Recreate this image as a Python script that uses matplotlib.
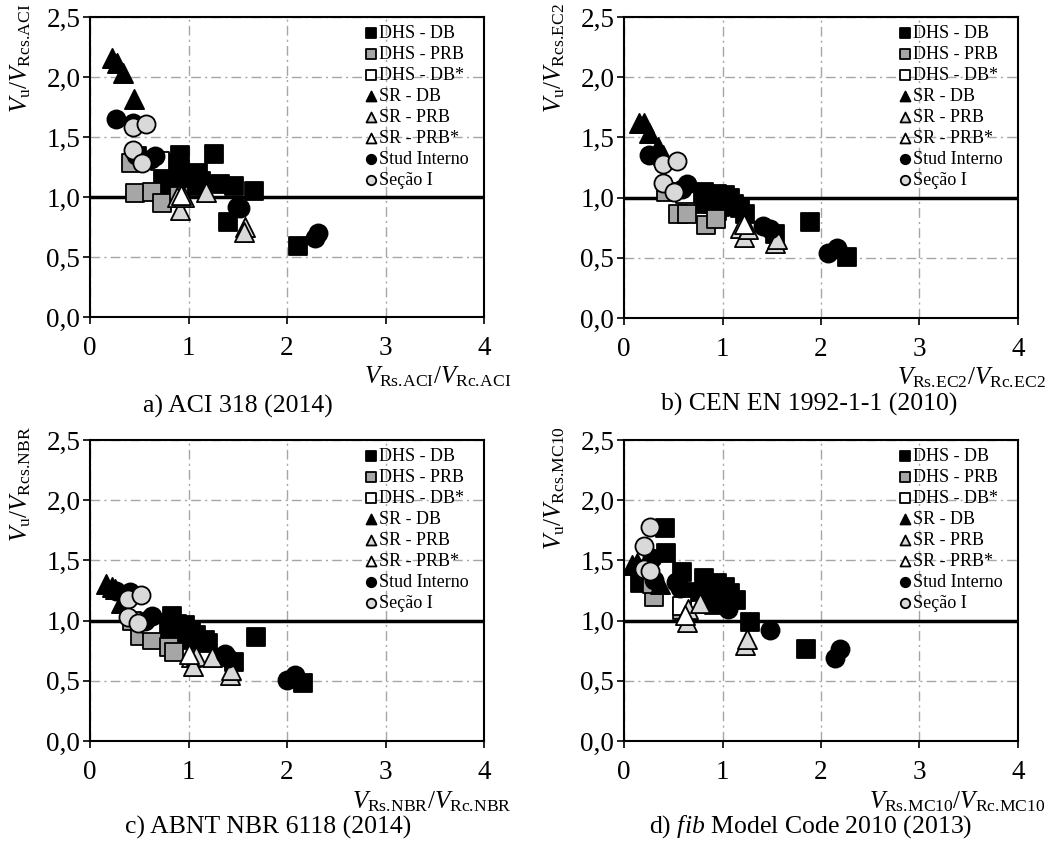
import matplotlib
matplotlib.use("Agg")
from matplotlib import pyplot as plt
from matplotlib.ticker import FuncFormatter
import numpy as np

plt.rcParams['font.family'] = ['Liberation Serif', 'DejaVu Serif']
plt.rcParams['mathtext.fontset'] = 'custom'
plt.rcParams['mathtext.rm'] = 'Liberation Serif'
plt.rcParams['mathtext.it'] = 'Liberation Serif:italic'
plt.rcParams['mathtext.bf'] = 'Liberation Serif:bold'

SERIES = ["DHS - DB", "DHS - PRB", "DHS - DB*", "SR - DB", "SR - PRB", "SR - PRB*",
          "Stud Interno", "Seção I"]

# a) ACI 318
ACI_DHS_DB_X = [0.48, 0.91, 0.88, 0.91, 0.74, 0.80, 0.93, 0.98, 1.10, 1.13, 1.08, 1.26, 1.32, 1.46, 1.66, 1.40, 2.11]
ACI_DHS_DB_Y = [1.34, 1.35, 1.28, 1.20, 1.14, 1.09, 1.13, 1.10, 1.20, 1.13, 1.09, 1.36, 1.11, 1.09, 1.05, 0.79, 0.59]
ACI_DHS_PRB_X = [0.42, 0.46, 0.63, 0.73, 0.90]
ACI_DHS_PRB_Y = [1.28, 1.03, 1.04, 0.95, 1.01]
ACI_DHS_DBS_X = [0.71]
ACI_DHS_DBS_Y = [1.30]
ACI_SR_DB_X = [0.22, 0.27, 0.34, 0.45]
ACI_SR_DB_Y = [2.16, 2.12, 2.03, 1.82]
ACI_SR_PRB_X = [0.88, 0.91, 0.95, 1.18, 1.57, 1.56]
ACI_SR_PRB_Y = [1.00, 0.89, 1.00, 1.04, 0.75, 0.71]
ACI_SR_PRBS_X = [0.92]
ACI_SR_PRBS_Y = [1.02]
ACI_STUD_X = [0.26, 0.44, 0.47, 0.62, 0.66, 1.49, 1.52, 2.28, 2.31]
ACI_STUD_Y = [1.65, 1.62, 1.35, 1.32, 1.34, 0.92, 0.91, 0.66, 0.70]
ACI_SEC_X = [0.44, 0.57, 0.44, 0.53]
ACI_SEC_Y = [1.58, 1.61, 1.39, 1.28]

# b) EC2
EC2_DHS_DB_X = [0.81, 0.87, 0.94, 1.03, 1.08, 0.81, 0.89, 0.97, 1.08, 1.18, 1.23, 0.94, 0.85, 1.00, 1.12, 0.90, 1.53, 1.89, 2.26]
EC2_DHS_DB_Y = [1.05, 1.02, 1.03, 1.02, 1.00, 0.95, 0.95, 0.92, 0.93, 0.91, 0.86, 0.89, 0.98, 0.97, 0.95, 1.00, 0.70, 0.80, 0.51]
EC2_DHS_PRB_X = [0.43, 0.55, 0.64, 0.83, 0.93]
EC2_DHS_PRB_Y = [1.05, 0.86, 0.86, 0.77, 0.82]
EC2_DHS_DBS_X = [0.62]
EC2_DHS_DBS_Y = [1.03]
EC2_SR_DB_X = [0.15, 0.20, 0.25, 0.35, 0.40]
EC2_SR_DB_Y = [1.62, 1.62, 1.54, 1.42, 1.35]
EC2_SR_PRB_X = [1.18, 1.22, 1.26, 1.53, 1.55]
EC2_SR_PRB_Y = [0.75, 0.67, 0.74, 0.62, 0.66]
EC2_SR_PRBS_X = [1.22]
EC2_SR_PRBS_Y = [0.78]
EC2_STUD_X = [0.25, 0.59, 0.64, 1.41, 1.48, 2.07, 2.16]
EC2_STUD_Y = [1.35, 1.07, 1.11, 0.76, 0.74, 0.54, 0.58]
EC2_SEC_X = [0.40, 0.54, 0.40, 0.51]
EC2_SEC_Y = [1.28, 1.30, 1.12, 1.05]

# c) NBR 6118
NBR_DHS_DB_X = [0.83, 0.78, 0.88, 0.96, 1.03, 0.81, 0.91, 0.98, 1.08, 1.17, 1.20, 0.86, 1.46, 1.69, 2.16]
NBR_DHS_DB_Y = [1.04, 0.98, 0.97, 0.96, 0.92, 0.89, 0.87, 0.84, 0.88, 0.84, 0.81, 0.92, 0.66, 0.86, 0.48]
NBR_DHS_PRB_X = [0.43, 0.51, 0.63, 0.80, 0.85]
NBR_DHS_PRB_Y = [1.00, 0.87, 0.84, 0.78, 0.74]
NBR_DHS_DBS_X = [0.62]
NBR_DHS_DBS_Y = [0.97]
NBR_SR_DB_X = [0.16, 0.22, 0.25, 0.31]
NBR_SR_DB_Y = [1.30, 1.28, 1.26, 1.15]
NBR_SR_PRB_X = [1.03, 1.08, 1.05, 1.24, 1.42, 1.43]
NBR_SR_PRB_Y = [0.70, 0.71, 0.62, 0.70, 0.55, 0.59]
NBR_SR_PRBS_X = [1.00]
NBR_SR_PRBS_Y = [0.72]
NBR_STUD_X = [0.26, 0.41, 0.56, 0.63, 1.37, 1.40, 2.00, 2.08]
NBR_STUD_Y = [1.25, 1.24, 1.00, 1.04, 0.72, 0.69, 0.51, 0.55]
NBR_SEC_X = [0.39, 0.52, 0.39, 0.49]
NBR_SEC_Y = [1.18, 1.21, 1.03, 0.98]

# d) fib MC2010
MC10_DHS_DB_X = [0.42, 0.43, 0.59, 0.16, 0.81, 0.87, 0.94, 1.03, 0.74, 0.84, 0.91, 0.96, 1.14, 1.08, 1.28, 1.85]
MC10_DHS_DB_Y = [1.77, 1.56, 1.40, 1.31, 1.35, 1.29, 1.31, 1.28, 1.24, 1.18, 1.13, 1.17, 1.17, 1.23, 0.99, 0.76]
MC10_DHS_PRB_X = [0.30, 0.28, 0.59]
MC10_DHS_PRB_Y = [1.20, 1.30, 1.09]
MC10_DHS_DBS_X = [0.59]
MC10_DHS_DBS_Y = [1.12]
MC10_SR_DB_X = [0.08, 0.13, 0.37]
MC10_SR_DB_Y = [1.46, 1.48, 1.30]
MC10_SR_PRB_X = [0.64, 0.65, 0.77, 1.23, 1.25]
MC10_SR_PRB_Y = [0.99, 1.10, 1.15, 0.80, 0.85]
MC10_SR_PRBS_X = [0.62]
MC10_SR_PRBS_Y = [1.05]
MC10_STUD_X = [0.28, 0.24, 0.30, 0.53, 0.57, 1.06, 1.48, 2.14, 2.19]
MC10_STUD_Y = [1.52, 1.45, 1.34, 1.32, 1.27, 1.10, 0.92, 0.69, 0.76]
MC10_SEC_X = [0.26, 0.20, 0.20, 0.26]
MC10_SEC_Y = [1.78, 1.62, 1.43, 1.41]

STYLES = [("s", "black"), ("s", "#a6a6a6"), ("s", "white"), ("^", "black"),
          ("^", "#d9d9d9"), ("^", "white"), ("o", "black"), ("o", "#d9d9d9")]

panels = [
    ("ACI", "a) ACI 318 (2014)",
     [(ACI_DHS_DB_X, ACI_DHS_DB_Y), (ACI_DHS_PRB_X, ACI_DHS_PRB_Y), (ACI_DHS_DBS_X, ACI_DHS_DBS_Y),
      (ACI_SR_DB_X, ACI_SR_DB_Y), (ACI_SR_PRB_X, ACI_SR_PRB_Y), (ACI_SR_PRBS_X, ACI_SR_PRBS_Y),
      (ACI_STUD_X, ACI_STUD_Y), (ACI_SEC_X, ACI_SEC_Y)]),
    ("EC2", "b) CEN EN 1992-1-1 (2010)",
     [(EC2_DHS_DB_X, EC2_DHS_DB_Y), (EC2_DHS_PRB_X, EC2_DHS_PRB_Y), (EC2_DHS_DBS_X, EC2_DHS_DBS_Y),
      (EC2_SR_DB_X, EC2_SR_DB_Y), (EC2_SR_PRB_X, EC2_SR_PRB_Y), (EC2_SR_PRBS_X, EC2_SR_PRBS_Y),
      (EC2_STUD_X, EC2_STUD_Y), (EC2_SEC_X, EC2_SEC_Y)]),
    ("NBR", "c) ABNT NBR 6118 (2014)",
     [(NBR_DHS_DB_X, NBR_DHS_DB_Y), (NBR_DHS_PRB_X, NBR_DHS_PRB_Y), (NBR_DHS_DBS_X, NBR_DHS_DBS_Y),
      (NBR_SR_DB_X, NBR_SR_DB_Y), (NBR_SR_PRB_X, NBR_SR_PRB_Y), (NBR_SR_PRBS_X, NBR_SR_PRBS_Y),
      (NBR_STUD_X, NBR_STUD_Y), (NBR_SEC_X, NBR_SEC_Y)]),
    ("MC10", r"d) $\mathit{fib}$ Model Code 2010 (2013)",
     [(MC10_DHS_DB_X, MC10_DHS_DB_Y), (MC10_DHS_PRB_X, MC10_DHS_PRB_Y), (MC10_DHS_DBS_X, MC10_DHS_DBS_Y),
      (MC10_SR_DB_X, MC10_SR_DB_Y), (MC10_SR_PRB_X, MC10_SR_PRB_Y), (MC10_SR_PRBS_X, MC10_SR_PRBS_Y),
      (MC10_STUD_X, MC10_STUD_Y), (MC10_SEC_X, MC10_SEC_Y)]),
]

W, H = 1059, 843
fig = plt.figure(figsize=(W / 100, H / 100), dpi=100)

# axes boxes in pixels: left, top, right, bottom
boxes = [(90, 17, 484, 317), (624, 17, 1018, 318), (90, 440, 484, 741), (624, 440, 1018, 741)]
caption_pos = [(238, 406), (809, 404), (268, 827), (811, 827)]

for (code, caption, data), (l, t, r, b), (cx, cy) in zip(panels, boxes, caption_pos):
    ax = fig.add_axes([l / W, 1 - b / H, (r - l) / W, (b - t) / H])
    ax.set_xlim(0, 4)
    ax.set_ylim(0, 2.5)
    ax.set_xticks([0, 1, 2, 3, 4])
    ax.set_yticks(np.arange(0, 2.51, 0.5))
    ax.yaxis.set_major_formatter(FuncFormatter(lambda v, p: f"{v:.1f}".replace(".", ",")))
    ax.tick_params(direction="out", length=5, width=1.2, labelsize=19.5)
    ax.tick_params(axis="x", pad=9)
    ax.tick_params(axis="y", pad=2)
    ax.grid(True, color="#a6a6a6", linestyle=(0, (7, 3, 1.5, 3)), linewidth=1.0)
    ax.set_axisbelow(True)
    for sp in ax.spines.values():
        sp.set_linewidth(1.5)
    ax.axhline(1.0, color="black", linewidth=2.5, zorder=1.5)

    for (xs, ys), (mk, fc), name in zip(data, STYLES, SERIES):
        size = 165 if mk == "s" else (170 if mk == "o" else 190)
        ax.scatter(xs, ys, s=size, marker=mk, facecolor=fc, edgecolor="black",
                   linewidth=1.3, label=name, zorder=3)

    leg = ax.legend(loc="upper left", bbox_to_anchor=(0.675, 1.0), frameon=False,
                    fontsize=13, markerscale=0.52, handletextpad=0.0, handlelength=0.8,
                    labelspacing=0.22, borderaxespad=0.15, borderpad=0.3)

    ax.text(1.07, -0.2, rf"$V_{{\mathrm{{Rs.\!{code}}}}}/V_{{\mathrm{{Rc.\!{code}}}}}$",
            transform=ax.transAxes, ha="right", va="center", fontsize=18)
    ax.text(-0.175, 1.045, rf"$V_{{\mathrm{{u}}}}/V_{{\mathrm{{Rcs.\!{code}}}}}$",
            transform=ax.transAxes, ha="center", va="top", rotation=90, fontsize=18)
    fig.text(cx / W, 1 - cy / H, caption, ha="center", va="center", fontsize=18.5)

fig.savefig("out.png", dpi=100)
